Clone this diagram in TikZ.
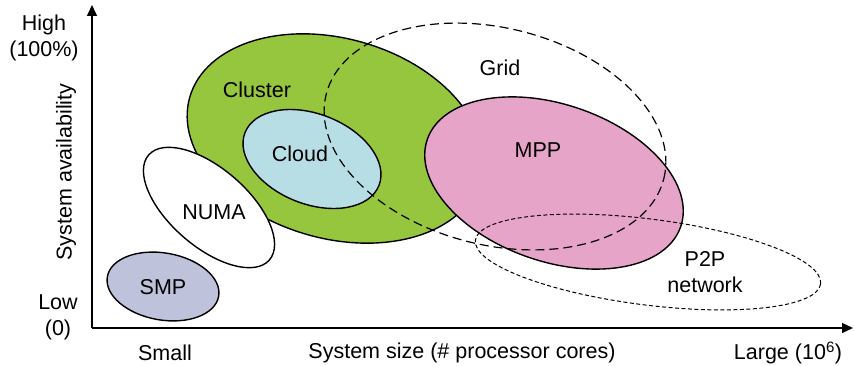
\documentclass[tikz,border=0pt]{standalone}
\usepackage{fontspec}
\setmainfont{Liberation Sans}
\usetikzlibrary{shapes.geometric,arrows.meta}
\definecolor{clustergreen}{RGB}{150,197,62}
\definecolor{cloudblue}{RGB}{183,222,228}
\definecolor{mpppink}{RGB}{230,164,200}
\definecolor{smpblue}{RGB}{190,194,218}
\begin{document}
\begin{tikzpicture}[x=1pt,y=-1pt,
  every node/.style={font=\fontsize{21.5}{26}\selectfont},
  blob/.style={ellipse,draw=black,line width=1.4pt,inner sep=0pt},
  lbl/.style={inner sep=0pt,align=center},
  gridline/.style={draw=black,line width=1.2pt,dash pattern=on 9pt off 5pt},
  ptwop/.style={draw=black,line width=1pt,dash pattern=on 4pt off 2.5pt},
  axis/.style={line width=1.5pt,-{Triangle[length=11pt,width=10pt]}}]
\useasboundingbox (0,0) rectangle (854,366);
% ellipses
\node[blob,fill=clustergreen,minimum width=302pt,minimum height=200pt,rotate=-15.8] (cluster) at (335,138.5) {};
\node[blob,fill=cloudblue,minimum width=144pt,minimum height=90pt,rotate=-21.5] (cloud) at (312,159) {};
\node[blob,fill=white,minimum width=160pt,minimum height=78pt,rotate=-41] (numa) at (209,207.5) {};
\node[blob,fill=smpblue,minimum width=113pt,minimum height=67pt,rotate=-10] (smp) at (163,286.5) {};
\node[blob,fill=mpppink,minimum width=268pt,minimum height=157pt,rotate=-19] (mpp) at (554,183) {};
\node[ellipse,gridline,inner sep=0pt,minimum width=348pt,minimum height=217pt,rotate=-14] (grid) at (495,136.5) {};
\node[ellipse,ptwop,inner sep=0pt,minimum width=348pt,minimum height=86pt,rotate=-7.2] (p2p) at (648,262) {};
% labels
\node[lbl] (lcluster) at (257,90) {Cluster};
\node[lbl] (lcloud) at (300,154) {Cloud};
\node[lbl] (lnuma) at (214,212) {NUMA};
\node[lbl] (lsmp) at (163,287) {SMP};
\node[lbl] (lgrid) at (500,68) {Grid};
\node[lbl] (lmpp) at (538,150) {MPP};
\node[lbl] (lp2p) at (705,272) {P2P\\network};
% axes
\coordinate (O) at (92,328);
\coordinate (ytip) at (92,5);
\coordinate (xtip) at (853,328);
\draw[axis] (O) -- (ytip);
\draw[axis] (O) -- (xtip);
\node[lbl] (high) at (44,38) {High\\(100\%)};
\node[lbl] (low) at (58,317) {Low\\(0)};
\node[lbl,rotate=90] (yl) at (66,172) {System availability};
\node[lbl] (small) at (165,353) {Small};
\node[lbl] (xl) at (462,353) {System size (\# processor cores)};
\node[lbl] (large) at (788,353) {Large (10\textsuperscript{6})};
\end{tikzpicture}
\end{document}
